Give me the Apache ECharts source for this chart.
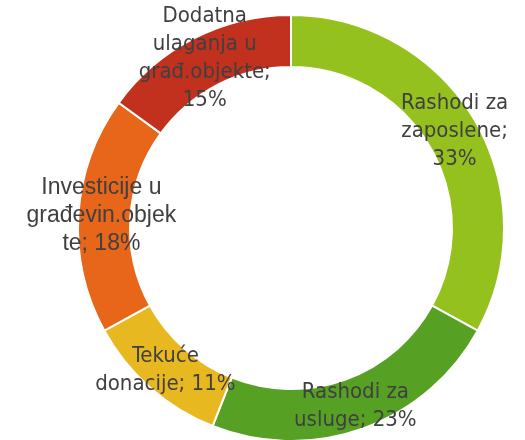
<!DOCTYPE html>
<html>
<head>
<meta charset="utf-8">
<script src="https://cdn.jsdelivr.net/npm/echarts@6/dist/echarts.min.js"></script>
<style>
  html, body { margin: 0; padding: 0; background: #fff; }
  #chart { width: 525px; height: 440px; }
</style>
</head>
<body>
<div id="chart"></div>
<script>
// kategorije i udjeli (%)
const categories = ['Rashodi za zaposlene', 'Rashodi za usluge', 'Tekuće donacije', 'Investicije u građevin.objekte', 'Dodatna ulaganja u građ.objekte'];
const values = [33, 23, 11, 18, 15];
// tekst oznaka, prelomljen kao na slici
const labelLines = ['Rashodi za\nzaposlene;\n', 'Rashodi za\nusluge; ', 'Tekuće\ndonacije; ', 'Investicije u\ngrađevin.objek\nte; ', 'Dodatna\nulaganja u\ngrađ.objekte;\n'];
const colors = ['#95c11f', '#56a024', '#e8b820', '#e8661a', '#c2301e'];

const chart = echarts.init(document.getElementById('chart'));

const data = categories.map(function (name, i) {
    const item = { name: name, value: values[i], itemStyle: { color: colors[i] } };
    if (i === 3) {
        item.label = { fontFamily: 'Liberation Sans', fontSize: 23, lineHeight: 28 };
    }
    return item;
});

chart.setOption({
    animation: false,
    series: [{
        type: 'pie',
        center: [291, 228],
        radius: [161, 213],
        startAngle: 90,
        clockwise: true,
        avoidLabelOverlap: false,
        itemStyle: { borderColor: '#fff', borderWidth: 2 },
        label: {
            show: true,
            position: 'inside',
            color: '#404040',
            fontFamily: 'DejaVu Sans Condensed',
            fontSize: 22,
            lineHeight: 28,
            align: 'center',
            formatter: function (p) {
                return labelLines[p.dataIndex] + p.value + '%';
            }
        },
        labelLine: { show: false },
        emphasis: { scale: false },
        data: data
    }]
});
</script>
</body>
</html>
